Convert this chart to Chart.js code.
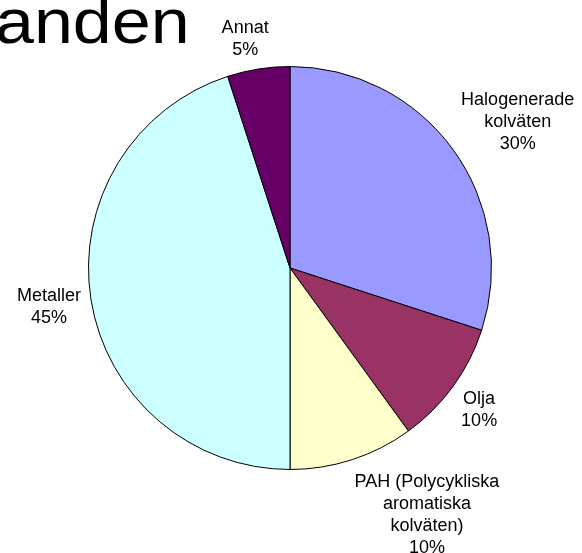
<!DOCTYPE html>
<html>
<head>
<meta charset="utf-8">
<script src="https://cdn.jsdelivr.net/npm/chart.js@4/dist/chart.umd.min.js"></script>
<style>
  html, body { margin: 0; padding: 0; background: #fff; overflow: hidden; }
  #wrap { width: 582px; height: 553px; }
</style>
</head>
<body>
<div id="wrap"><canvas id="pie" width="582" height="553"></canvas></div>
<script>
const labels = [
    ['Halogenerade', 'kolväten'],
    ['Olja'],
    ['PAH (Polycykliska', 'aromatiska', 'kolväten)'],
    ['Metaller'],
    ['Annat']
];
const values = [30, 10, 10, 45, 5];
const colors = ['#9999FF', '#993366', '#FFFFCC', '#CCFFFF', '#660066'];
const titleText = 'anden';

const labelFont = '18px "Liberation Sans", Arial, sans-serif';
const lineH = 22;

// outside labels, box placed against the slice edge (excel style)
const outsideLabels = {
    id: 'outsideLabels',
    afterDraw(chart) {
        const c = chart.ctx;
        const total = values.reduce((a, b) => a + b, 0);
        const arcs = chart.getDatasetMeta(0).data;
        const clamp = v => Math.max(0, Math.min(1, v));
        c.save();
        c.font = labelFont;
        c.fillStyle = '#000';
        c.textAlign = 'center';
        c.textBaseline = 'middle';
        arcs.forEach((arc, i) => {
            const lines = labels[i].concat([Math.round(values[i] / total * 100) + '%']);
            const w = Math.max(...lines.map(l => c.measureText(l).width));
            const h = lines.length * lineH;
            const mid = (arc.startAngle + arc.endAngle) / 2;
            const dx = Math.cos(mid), dy = Math.sin(mid);
            const ax = arc.x + dx * (arc.outerRadius + 10);
            const ay = arc.y + dy * (arc.outerRadius + 10) + 2;
            const fx = clamp(0.5 - dx * 1.6);
            const fy = clamp(0.5 - dy * 0.6);
            const left = ax - fx * w;
            const top = ay - fy * h;
            lines.forEach((l, j) => {
                c.fillText(l, left + w / 2, top + lineH * (j + 0.5));
            });
        });
        // big heading, cut by the left edge like the original slide
        c.textAlign = 'left';
        c.textBaseline = 'alphabetic';
        c.font = '70px "Liberation Sans", Arial, sans-serif';
        c.translate(-5, 43);
        c.scale(1, 0.9);
        c.fillText(titleText, 0, 0);
        c.restore();
    }
};

const ctx = document.getElementById('pie').getContext('2d');
new Chart(ctx, {
    type: 'pie',
    data: {
        labels: labels.map(l => l.join(' ')),
        datasets: [{
            data: values,
            backgroundColor: colors,
            borderColor: '#000',
            borderWidth: 1
        }]
    },
    options: {
        responsive: false,
        animation: false,
        layout: {
            padding: {left: 88, right: 90, top: 66, bottom: 83}
        },
        plugins: {
            legend: {display: false},
            tooltip: {enabled: false}
        }
    },
    plugins: [outsideLabels]
});
</script>
</body>
</html>
